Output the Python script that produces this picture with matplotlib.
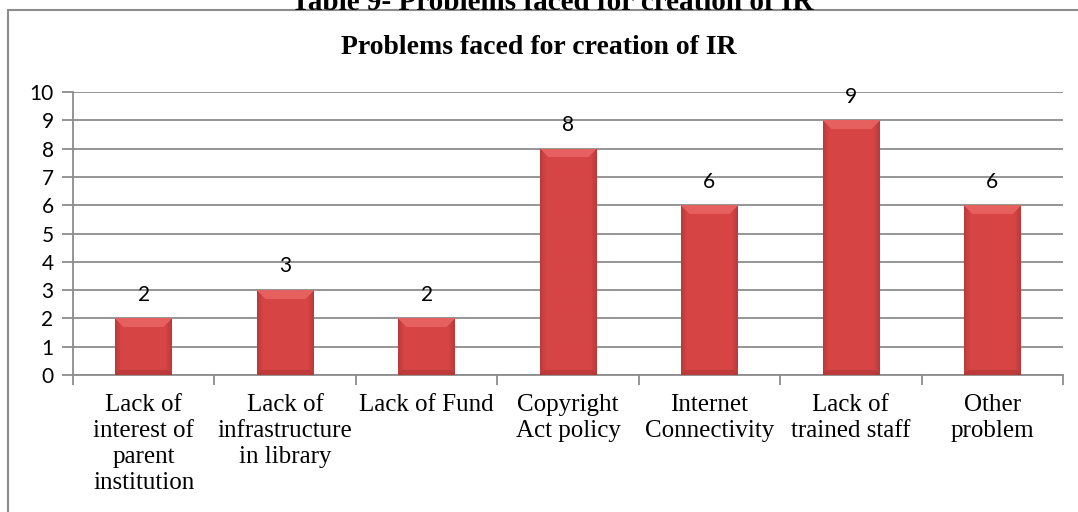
import numpy as np
import matplotlib
matplotlib.use("Agg")
from matplotlib import pyplot as plt
from matplotlib.colors import to_rgb
from matplotlib.patches import Rectangle

# chart data
categories = ["Lack of\ninterest of\nparent\ninstitution",
              "Lack of\ninfrastructure\nin library",
              "Lack of Fund",
              "Copyright\nAct policy",
              "Internet\nConnectivity",
              "Lack of\ntrained staff",
              "Other\nproblem"]
counts = [2, 3, 2, 8, 6, 9, 6]
y_ticks = list(range(0, 11))

page_title = "Table 9- Problems faced for creation of IR"
chart_title = "Problems faced for creation of IR"

serif = ["Liberation Serif", "DejaVu Serif"]
sans = ["Lato", "DejaVu Sans"]

fig = plt.figure(figsize=(10.78, 5.12), dpi=100)
W, H = 1078, 512

# outer chart border (runs off the right and bottom of the picture)
fig.patches.append(Rectangle((8 / W, -0.1), 1.2, 1 - 10 / H + 0.1, transform=fig.transFigure,
                             fill=False, edgecolor="#8c8c8c", linewidth=1.5))

# page caption, only its lower half shows at the top edge
fig.text(552 / W, 1 - 10 / H, page_title, ha="center", va="baseline", fontsize=21,
         fontweight="bold", family=serif)
fig.text(0.5, 1 - 47 / H, chart_title, ha="center", va="center", fontsize=20,
         fontweight="bold", family=serif)

ax = fig.add_axes([73 / W, 1 - 375 / H, (1063 - 73) / W, (375 - 92) / H])
x = np.arange(len(categories))
bar_w = 0.40
bars = ax.bar(x, counts, width=bar_w, color="#d04141", zorder=3)

ax.set_xlim(-0.5, len(categories) - 0.5)
ax.set_ylim(0, 10)

# bevelled red face for each bar
face = np.array(to_rgb("#d64545"))
side = np.array(to_rgb("#b23535"))
top = np.array(to_rgb("#e66060"))
foot = np.array(to_rgb("#a83232"))
px_per_unit_y = (375 - 92) / 10
px_per_unit_x = (1063 - 73) / len(categories)
for b in bars:
    x0, w, h = b.get_x(), b.get_width(), b.get_height()
    nx = int(round(w * px_per_unit_x))
    ny = int(round(h * px_per_unit_y))
    cols = np.arange(nx) + 0.5
    rows = np.arange(ny) + 0.5
    ds = np.minimum(cols, nx - cols)[None, :]      # distance to the sides
    dt = rows[:, None]                            # distance to the top
    db = (ny - rows)[:, None]                     # distance to the foot
    img = np.tile(face, (ny, nx, 1))
    shade = np.clip(1 - ds / 6, 0, 1)[..., None] * 0.8
    img = img * (1 - shade) + side * shade
    tmask = (dt < 9) & (dt <= ds)
    img[tmask] = top
    bmask = (db < 5) & (db <= ds)
    img[bmask] = img[bmask] * 0.5 + foot * 0.5
    im = ax.imshow(img, extent=(x0, x0 + w, 0, h), aspect="auto", zorder=4,
                   interpolation="bilinear")
    im.set_clip_path(b)
    ax.annotate(str(int(h)), (x0 + w / 2, h), xytext=(0, 17), textcoords="offset points",
                ha="center", va="center", fontsize=15, family=sans, zorder=5)

ax.set_yticks(y_ticks)
ax.set_yticklabels([str(t) for t in y_ticks], family=sans, fontsize=15)
ax.set_xticks(np.arange(-0.5, len(categories)), minor=False)
ax.set_xticklabels([])
ax.set_xticks(x, minor=True)
ax.set_xticklabels(categories, minor=True, family=serif, fontsize=18, linespacing=1.22,
                   va="top")
ax.tick_params(axis="x", which="minor", length=0, pad=14)
ax.tick_params(axis="x", which="major", length=7, width=1.3, color="#8c8c8c", direction="out")
ax.tick_params(axis="y", length=8, width=1.3, color="#8c8c8c", pad=6)

ax.grid(axis="y", color="#8c8c8c", linewidth=1.3, zorder=0)
ax.set_axisbelow(True)
for s in ["top", "right"]:
    ax.spines[s].set_visible(False)
for s in ["left", "bottom"]:
    ax.spines[s].set_color("#8c8c8c")
    ax.spines[s].set_linewidth(1.3)

fig.savefig("out.png", dpi=100)
